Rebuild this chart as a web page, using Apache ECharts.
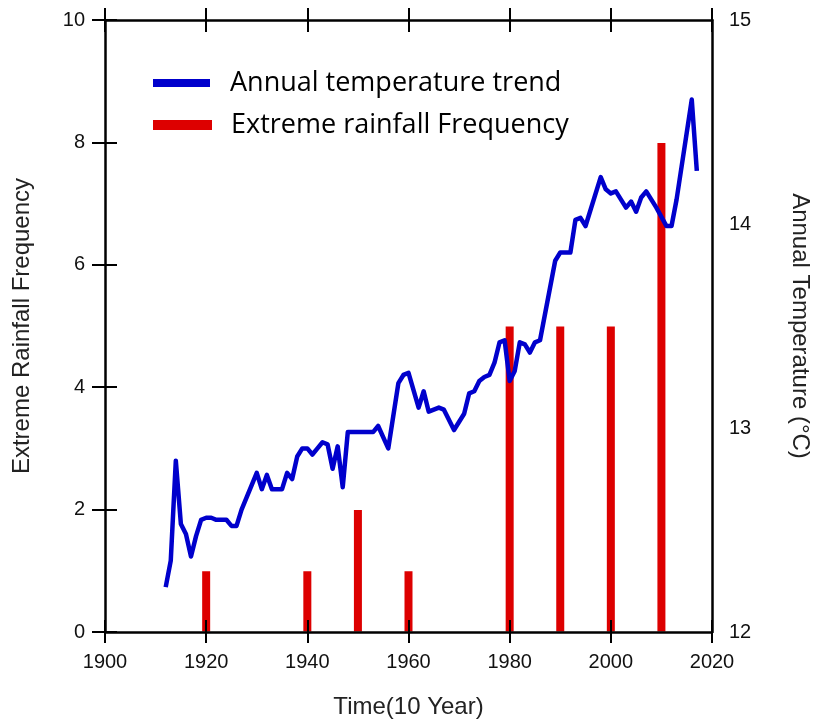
<!DOCTYPE html>
<html>
<head>
<meta charset="utf-8">
<script src="https://cdn.jsdelivr.net/npm/echarts@6/dist/echarts.min.js"></script>
<style>
  html, body { margin: 0; padding: 0; background: #fff; }
  #chart { width: 813px; height: 719px; }
</style>
</head>
<body>
<div id="chart"></div>
<script>
// Annual mean temperature (°C), by year
const tempYears = [1912, 1913, 1914, 1915, 1916, 1917, 1918, 1919, 1920, 1921, 1922, 1924, 1925, 1926,
  1927, 1928, 1930, 1931, 1932, 1933, 1935, 1936, 1937, 1938, 1939, 1940, 1941, 1942, 1943, 1944,
  1945, 1946, 1947, 1948, 1953, 1954, 1956, 1958, 1959, 1960, 1962, 1963, 1964, 1966, 1967, 1969,
  1971, 1972, 1973, 1974, 1975, 1976, 1977, 1978, 1979, 1980, 1981, 1982, 1983, 1984, 1985, 1986,
  1989, 1990, 1992, 1993, 1994, 1995, 1998, 1999, 2000, 2001, 2003, 2004, 2005, 2006, 2007, 2009,
  2011, 2012, 2013, 2016, 2017];
const tempValues = [12.22, 12.35, 12.84, 12.53, 12.48, 12.37, 12.47, 12.55, 12.56, 12.56, 12.55, 12.55, 12.52, 12.52,
  12.60, 12.66, 12.78, 12.70, 12.77, 12.70, 12.70, 12.78, 12.75, 12.86, 12.90, 12.90, 12.87, 12.90, 12.93, 12.92,
  12.80, 12.91, 12.71, 12.98, 12.98, 13.01, 12.90, 13.22, 13.26, 13.27, 13.10, 13.18, 13.08, 13.10, 13.09, 12.99,
  13.07, 13.17, 13.18, 13.23, 13.25, 13.26, 13.32, 13.42, 13.43, 13.23, 13.28, 13.42, 13.41, 13.37, 13.42, 13.43,
  13.82, 13.86, 13.86, 14.02, 14.03, 13.99, 14.23, 14.17, 14.15, 14.16, 14.08, 14.11, 14.06, 14.13, 14.16, 14.08,
  13.99, 13.99, 14.12, 14.61, 14.26];

// Extreme rainfall events per decade
const rainYears = [1920, 1940, 1950, 1960, 1980, 1990, 2000, 2010];
const rainCounts = [1, 1, 2, 1, 5, 5, 5, 8];

const seriesNames = ['Annual temperature trend', 'Extreme rainfall Frequency'];
const axisNames = { x: 'Time(10 Year)', left: 'Extreme Rainfall Frequency', right: 'Annual Temperature (°C)' };

const BLUE = '#0000cc';
const RED = '#dd0000';
const AXIS_FONT = '"Liberation Sans", Arial, sans-serif';
const LEGEND_FONT = '"Open Sans", "Noto Sans", sans-serif';

const lineData = tempYears.map((y, i) => [y, tempValues[i]]);
const barData = rainYears.map((y, i) => [y, rainCounts[i]]);

const axisLine = { show: true, onZero: false, lineStyle: { color: '#000', width: 2.5 } };
const noLine = { show: false, onZero: false };
const tick = (inside, length) => ({ show: true, inside: inside, length: length, lineStyle: { color: '#000', width: 2 } });
const labelStyle = { color: '#111', fontSize: 20, fontFamily: AXIS_FONT, formatter: v => String(v) };
const nameStyle = { color: '#222', fontSize: 24, fontFamily: AXIS_FONT };

const xBase = { type: 'value', min: 1900, max: 2020, interval: 20, splitLine: { show: false }, z: 5 };
const leftBase = { type: 'value', min: 0, max: 10, interval: 2, splitLine: { show: false }, z: 5 };

const legendText = { fontSize: 27, fontFamily: LEGEND_FONT, color: '#000', lineHeight: 36, padding: [0, 0, 0, 15] };

const chart = echarts.init(document.getElementById('chart'), null, { renderer: 'canvas' });
chart.setOption({
  animation: false,
  backgroundColor: '#fff',
  grid: { left: 105, right: 101, top: 20, bottom: 87, containLabel: false, outerBoundsMode: 'none' },
  legend: [
    {
      data: [{ name: seriesNames[0], icon: 'rect' }],
      left: 148, top: 60, itemWidth: 57, itemHeight: 8,
      textStyle: legendText, selectedMode: false
    },
    {
      data: [{ name: seriesNames[1], icon: 'rect' }],
      left: 148, top: 102, itemWidth: 57, itemHeight: 8,
      textStyle: legendText, selectedMode: false
    }
  ],
  xAxis: [
    Object.assign({}, xBase, {
      position: 'bottom', axisLine: axisLine, axisTick: tick(false, 11),
      axisLabel: Object.assign({ margin: 20 }, labelStyle),
      name: axisNames.x, nameLocation: 'middle', nameGap: 63, nameTextStyle: nameStyle
    }),
    Object.assign({}, xBase, { position: 'bottom', axisLine: noLine, axisTick: tick(true, 12), axisLabel: { show: false } }),
    Object.assign({}, xBase, { position: 'top', axisLine: axisLine, axisTick: tick(true, 12), axisLabel: { show: false } }),
    Object.assign({}, xBase, { position: 'top', axisLine: noLine, axisTick: tick(false, 12), axisLabel: { show: false } })
  ],
  yAxis: [
    Object.assign({}, leftBase, {
      position: 'left', axisLine: axisLine, axisTick: tick(false, 13),
      axisLabel: Object.assign({ margin: 20 }, labelStyle),
      name: axisNames.left, nameLocation: 'middle', nameGap: 71, nameTextStyle: nameStyle
    }),
    Object.assign({}, leftBase, { position: 'left', axisLine: noLine, axisTick: tick(true, 12), axisLabel: { show: false } }),
    {
      type: 'value', position: 'right', min: 12, max: 15, interval: 1, z: 5,
      splitLine: { show: false }, axisLine: axisLine, axisTick: { show: false },
      axisLabel: Object.assign({ margin: 17 }, labelStyle),
      name: axisNames.right, nameLocation: 'middle', nameGap: 76, nameRotate: -90, nameTextStyle: nameStyle
    }
  ],
  series: [
    {
      name: seriesNames[1], type: 'bar', xAxisIndex: 0, yAxisIndex: 0,
      data: barData, barWidth: 1, clip: false, z: 2,
      itemStyle: { color: RED, borderColor: RED, borderWidth: 8 }
    },
    {
      name: seriesNames[0], type: 'line', xAxisIndex: 0, yAxisIndex: 2,
      data: lineData, showSymbol: false, symbol: 'none', z: 3,
      itemStyle: { color: BLUE },
      lineStyle: { color: BLUE, width: 4.5, join: 'round' }
    }
  ]
});
</script>
</body>
</html>
